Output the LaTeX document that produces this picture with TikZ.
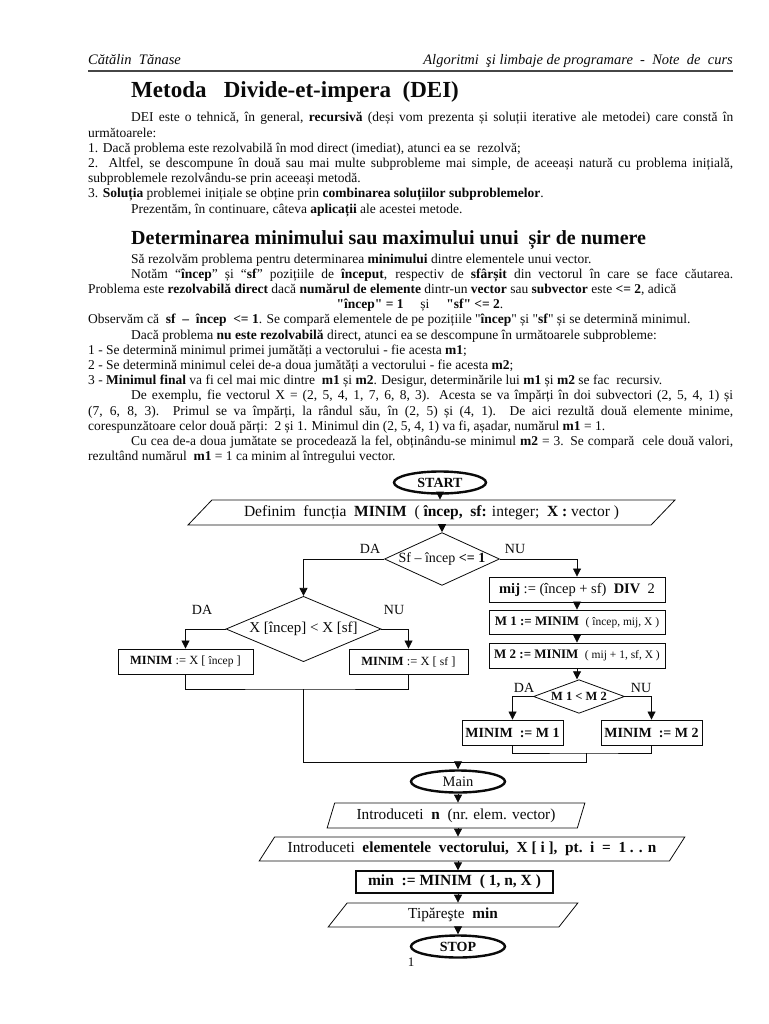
\documentclass[tikz,border=0pt]{standalone}
\usepackage{fontspec}
\setmainfont{Liberation Serif}
\usetikzlibrary{
    arrows.meta,
    shapes.geometric
}
\definecolor{ink}{RGB}{10,10,10}
\definecolor{rulegray}{RGB}{70,70,70}
\newcommand{\fs}[1]{\fontsize{#1}{#1}\selectfont}
\newcommand{\jline}[2]{\makebox[#1][s]{#2}}
\newcommand{\qd}{\textquotedbl}
\tikzset{
    line cap=butt,
    line join=miter,
    body/.style={
        anchor=base west,
        inner sep=0pt,
        text=ink,
        font=\fs{13.5}
    },
    hdtext/.style={
        inner sep=0pt,
        text=ink,
        font=\fs{14.5}\itshape
    },
    heading/.style={
        anchor=base west,
        inner sep=0pt,
        text=ink,
        font=\fs{23}\bfseries
    },
    subheading/.style={
        heading,
        font=\fs{20}\bfseries
    },
    term/.style={
        ellipse,
        draw=ink,
        line width=2.4pt,
        minimum width=94pt,
        minimum height=22pt,
        inner sep=0pt,
        text=ink,
        font=\fs{14}\bfseries
    },
    iobox/.style={
        trapezium,
        trapezium stretches=true,
        draw=ink,
        line width=0.8pt,
        inner sep=0pt,
        text=ink,
        font=\fs{15.3}
    },
    procbox/.style={
        rectangle,
        draw=ink,
        line width=0.9pt,
        inner sep=0pt,
        text=ink,
        font=\fs{14}
    },
    decision/.style={
        diamond,
        draw=ink,
        line width=0.8pt,
        inner sep=0pt,
        text=ink,
        font=\fs{14}
    },
    branch/.style={
        inner sep=0pt,
        text=ink,
        font=\fs{14}
    },
    flowarrow/.style={
        draw=ink,
        line width=0.8pt,
        -{Triangle[width=8pt,length=8pt]}
    },
    joinline/.style={
        draw=ink,
        line width=0.8pt
    }
}

\begin{document}
\begin{tikzpicture}[x=1pt, y=-1pt]
\useasboundingbox (0,0) rectangle (768,1024);

% Running head
\node[hdtext, anchor=base west] (author) at (88,65) {Cătălin\ \ Tănase};
\node[hdtext, anchor=base east] (course) at (733,65)
    {Algoritmi\ \ şi limbaje de programare\ \ -\ \ Note\ \ de\ \ curs};
\draw[rulegray, line width=1.8pt] (88,71) -- (733,71);

% Section 1
\node[heading] (title) at (131,98) {Metoda\ \ \ Divide-et-impera\ \ (DEI)};
\node[body] (p1) at (131,122) {\jline{602pt}{DEI este o tehnică, în general, \textbf{recursivă} (deși vom prezenta și soluții iterative ale metodei) care constă în}};
\node[body] (p2) at (88,137.2) {următoarele:};
\node[body] (p3) at (88,152.4) {1. Dacă problema este rezolvabilă în mod direct (imediat), atunci ea se\ \ rezolvă;};
\node[body] (p4) at (88,167.6) {\jline{645pt}{2. Altfel, se descompune în două sau mai multe subprobleme mai simple, de aceeași natură cu problema inițială,}};
\node[body] (p5) at (88,182.8) {subproblemele rezolvându-se prin aceeași metodă.};
\node[body] (p6) at (88,198) {3. \textbf{Soluția} problemei inițiale se obține prin \textbf{combinarea soluțiilor subproblemelor}.};
\node[body] (p7) at (131,213.2) {Prezentăm, în continuare, câteva \textbf{aplicații} ale acestei metode.};

% Section 2
\node[subheading] (title2) at (131,244) {Determinarea minimului sau maximului unui\ \ șir de numere};
\node[body] (q1) at (131,263) {Să rezolvăm problema pentru determinarea \textbf{minimului} dintre elementele unui vector.};
\node[body] (q2) at (131,278.2) {\jline{602pt}{Notăm “\textbf{încep}” și “\textbf{sf}” pozițiile de \textbf{început}, respectiv de \textbf{sfârșit} din vectorul în care se face căutarea.}};
\node[body] (q3) at (88,293.4) {Problema este \textbf{rezolvabilă direct} dacă \textbf{numărul de elemente} dintr-un \textbf{vector} sau \textbf{subvector} este \textbf{<= 2}, adică};
\node[body, anchor=base] (q4) at (420,308.6) {\textbf{\qd încep\qd{} = 1}\quad\ și\quad\ \textbf{\qd sf\qd{} <= 2}.};
\node[body] (q5) at (88,323.8) {Observăm că\ \ \textbf{sf\ \ –\ \ încep\ \ <= 1}. Se compară elementele de pe pozițiile \qd\textbf{încep}\qd{} și \qd\textbf{sf}\qd{} și se determină minimul.};
\node[body] (q6) at (131,339) {Dacă problema \textbf{nu este rezolvabilă} direct, atunci ea se descompune în următoarele subprobleme:};
\node[body] (q7) at (88,354.2) {1 - Se determină minimul primei jumătăți a vectorului - fie acesta \textbf{m1};};
\node[body] (q8) at (88,369.4) {2 - Se determină minimul celei de-a doua jumătăți a vectorului - fie acesta \textbf{m2};};
\node[body] (q9) at (88,384.6) {3 - \textbf{Minimul final} va fi cel mai mic dintre\ \ \textbf{m1} și \textbf{m2}. Desigur, determinările lui \textbf{m1} și \textbf{m2} se fac\ \ recursiv.};
\node[body] (q10) at (131,399.8) {\jline{602pt}{De exemplu, fie vectorul X = (2, 5, 4, 1, 7, 6, 8, 3). Acesta se va împărți în doi subvectori (2, 5, 4, 1) și}};
\node[body] (q11) at (88,415) {\jline{645pt}{(7, 6, 8, 3). Primul se va împărți, la rândul său, în (2, 5) și (4, 1). De aici rezultă două elemente minime,}};
\node[body] (q12) at (88,430.2) {corespunzătoare celor două părți:\ \ 2 și 1. Minimul din (2, 5, 4, 1) va fi, așadar, numărul \textbf{m1} = 1.};
\node[body] (q13) at (131,445.4) {\jline{602pt}{Cu cea de-a doua jumătate se procedează la fel, obținându-se minimul \textbf{m2} = 3. Se compară\ \ cele două valori,}};
\node[body] (q14) at (88,460.6) {rezultând numărul\ \ \textbf{m1} = 1 ca minim al întregului vector.};

% Function MINIM
\node[term, minimum width=92pt] (start) at (440,482.5) {START};
\node[iobox, trapezium left angle=35, trapezium right angle=145,
      minimum width=489pt, minimum height=25pt, font=\fs{15.5}] (def) at (431.5,512.5)
    {Definim\ \ funcția\ \ \textbf{MINIM}\ \ ( \textbf{încep,\ \ sf:} integer;\ \ \textbf{X :} vector )};
\node[decision, aspect=2.17, minimum width=115pt] (d1) at (442,559) {Sf – încep \textbf{<= 1}};
\node[branch] (d1da) at (370,549) {DA};
\node[branch] (d1nu) at (515,549) {NU};

% direct case
\node[decision, aspect=2.1, minimum width=155pt, font=\fs{15}] (d2) at (303.5,629) {X [încep] < X [sf]};
\node[branch] (d2da) at (202,610) {DA};
\node[branch] (d2nu) at (394,610) {NU};
\node[procbox, minimum width=135pt, minimum height=25pt, font=\fs{12.5}] (xinc) at (185.5,661.5)
    {\textbf{MINIM} := X [ {\fs{11.5}încep} ]};
\node[procbox, minimum width=119pt, minimum height=25pt, font=\fs{12.5}] (xsf) at (408.5,661.5)
    {\textbf{MINIM} := X [ {\fs{11.5}sf} ]};

% recursive case
\node[procbox, minimum width=176pt, minimum height=25pt, font=\fs{14.5}] (mij) at (577,589.5)
    {\textbf{mij} := (încep + sf)\ \ \textbf{DIV}\ \ 2};
\node[procbox, minimum width=176pt, minimum height=24pt, font=\fs{13}] (m1) at (577,622)
    {\textbf{M 1 := MINIM}\ \ {\fs{11.5}( încep, mij, X )}};
\node[procbox, minimum width=176pt, minimum height=25pt, font=\fs{13}] (m2) at (577,655.5)
    {\textbf{M 2 := MINIM}\ \ {\fs{11.5}( mij + 1, sf, X )}};
\node[decision, aspect=2.2, minimum width=91pt, font=\fs{12.5}] (d3) at (579,696.5) {\textbf{M 1 < M 2}};
\node[branch] (d3da) at (524,688) {DA};
\node[branch] (d3nu) at (641,688) {NU};
\node[procbox, minimum width=101pt, minimum height=25pt, font=\fs{14}\bfseries] (m1min) at (512.5,732.5) {MINIM\ \ := M 1};
\node[procbox, minimum width=101pt, minimum height=25pt, font=\fs{14}\bfseries] (m2min) at (651.5,732.5) {MINIM\ \ := M 2};

% Main program
\node[term, font=\fs{14.5}] (main) at (458,781.5) {Main};
\node[iobox, trapezium left angle=66, trapezium right angle=114,
      minimum width=258pt, minimum height=25pt] (readn) at (456,815.5)
    {Introduceti\ \ \textbf{n}\ \ (nr. elem. vector)};
\node[iobox, trapezium left angle=44, trapezium right angle=136,
      minimum width=428pt, minimum height=24pt] (readx) at (472,849)
    {Introduceti\ \ \textbf{elementele\ \ vectorului,\ \ X [ i ],\ \ pt.\ \ i\ \ =\ \ 1 . . n}};
\node[procbox, minimum width=197pt, minimum height=22pt, line width=1.3pt, font=\fs{15.5}\bfseries] (call) at (454.5,882)
    {min\ \ := MINIM\ \ ( 1, n, X )};
\node[iobox, trapezium left angle=60, trapezium right angle=120,
      minimum width=250pt, minimum height=24pt] (print) at (453,915)
    {Tipăreşte\ \ \textbf{min}};
\node[term] (stop) at (458,946.5) {STOP};
\node[body, anchor=base, font=\fs{13}] (pageno) at (411,966) {1};

% connectors
\draw[flowarrow] (start.south) -- (start.south |- def.north);
\draw[flowarrow] (d1.north |- def.south) -- (d1.north);
\draw[flowarrow] (d1.west) -| (d2.north);
\draw[flowarrow] (d1.east) -| (mij.north);
\draw[flowarrow] (d2.west) -| (xinc.north);
\draw[flowarrow] (d2.east) -| (xsf.north);
\draw[flowarrow] (mij.south) -- (m1.north);
\draw[flowarrow] (m1.south) -- (m2.north);
\draw[flowarrow] (m2.south) -- (m2.south |- d3.north);
\draw[flowarrow] (d3.west) -| (m1min.north);
\draw[flowarrow] (d3.east) -| (m2min.north);

% joins
\coordinate (jleft) at (303.5,689);
\coordinate (jright) at (586,753);
\coordinate (jall) at (586,762);
\draw[joinline] (xinc.south) |- (jleft) -| (xsf.south);
\draw[joinline] (m1min.south) |- (jright) -| (m2min.south);
\draw[joinline] (jleft) |- (jall) -- (jright);
\draw[flowarrow] (main.north |- jall) -- (main.north);

\draw[flowarrow] (main.south) -- (main.south |- readn.north);
\draw[flowarrow] (main.south |- readn.south) -- (main.south |- readx.north);
\draw[flowarrow] (main.south |- readx.south) -- (main.south |- call.north);
\draw[flowarrow] (main.south |- call.south) -- (main.south |- print.north);
\draw[flowarrow] (main.south |- print.south) -- (stop.north);
\end{tikzpicture}
\end{document}
